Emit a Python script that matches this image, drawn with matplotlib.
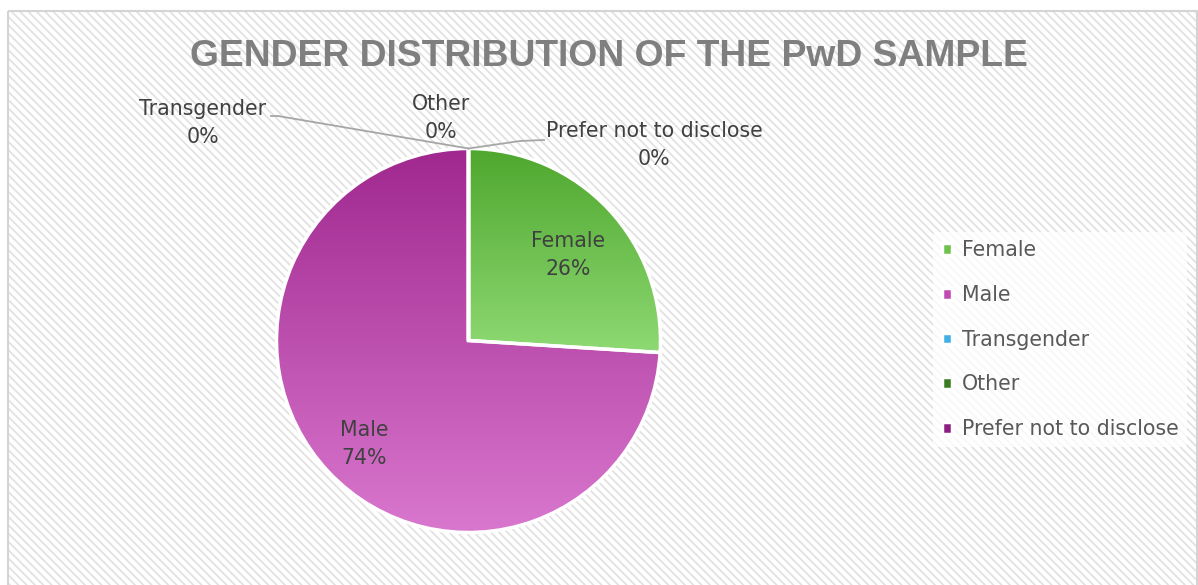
import numpy as np
import matplotlib
matplotlib.use('Agg')
import matplotlib.pyplot as plt
from matplotlib.patches import Rectangle
from matplotlib.colors import LinearSegmentedColormap

# gender split of the PwD sample (percent)
categories = ['Female', 'Male', 'Transgender', 'Other', 'Prefer not to disclose']
shares = [26, 74, 0, 0, 0]
colors = ['#6cc24a', '#c04cb3', '#41b0e4', '#3b7d23', '#8e1f82']
gradients = {
    'Female': ('#4ea72e', '#8ed973'),
    'Male': ('#a0288f', '#d977ce'),
}

W, H = 1198, 585
plt.rcParams['font.family'] = ['DejaVu Sans']
plt.rcParams['hatch.linewidth'] = 1.3

fig = plt.figure(figsize=(W / 100, H / 100), dpi=100)

# background panel in pixel coordinates (y grows downward)
bg = fig.add_axes([0, 0, 1, 1], zorder=0)
bg.set_xlim(0, W)
bg.set_ylim(H, 0)
bg.axis('off')
bg.add_patch(Rectangle((8, 11), W - 9, H, facecolor='white', edgecolor='#e2e2e2',
                       hatch='\\\\\\\\', linewidth=0, zorder=0))
bg.add_patch(Rectangle((8, 11), W - 9, H, fill=False, edgecolor='#d4d4d4',
                       linewidth=1.5, zorder=1))

# pie axes placed so the circle sits at (468, 340), radius 192 px
cx, cy, r = 468.5, 340.5, 192
ax = fig.add_axes([(cx - r) / W, (H - cy - r) / H, 2 * r / W, 2 * r / H], zorder=1)

wedges, _ = ax.pie(shares, colors=colors, startangle=90, counterclock=False, radius=1,
                   wedgeprops=dict(edgecolor='white', linewidth=2.5))
ax.set_aspect('equal')
ax.axis('off')

# vertical gradient fill clipped to each visible slice
for wedge, name in zip(wedges, categories):
    if name not in gradients:
        continue
    top, bottom = gradients[name]
    cmap = LinearSegmentedColormap.from_list(name, [bottom, top])
    ext = wedge.get_path().get_extents(wedge.get_transform() + ax.transData.inverted())
    grad = np.linspace(0, 1, 256).reshape(-1, 1)
    im = ax.imshow(grad, cmap=cmap, origin='lower', aspect='auto',
                   extent=[ext.x0, ext.x1, ext.y0, ext.y1], zorder=wedge.get_zorder() - 0.1)
    im.set_clip_path(wedge)
    wedge.set_facecolor('none')
ax.set_xlim(-1, 1)
ax.set_ylim(-1, 1)

# overlay for title, labels, leader lines and legend
ov = fig.add_axes([0, 0, 1, 1], zorder=2)
ov.set_xlim(0, W)
ov.set_ylim(H, 0)
ov.axis('off')
ov.patch.set_alpha(0)

ov.text(609, 57, 'GENDER DISTRIBUTION OF THE PwD SAMPLE', ha='center', va='center',
        fontsize=26.8, fontweight='bold', color='#7f7f7f', family='Liberation Sans')

label_color = '#404040'
fs = 14.8
ls = 1.5

def pct(v):
    return f'{v}%'

# labels inside the big slices
ov.text(568, 255, f'{categories[0]}\n{pct(shares[0])}', ha='center', va='center',
        fontsize=fs, color=label_color, linespacing=ls)
ov.text(364, 444, f'{categories[1]}\n{pct(shares[1])}', ha='center', va='center',
        fontsize=fs, color=label_color, linespacing=ls)

# zero slices all sit at the top of the pie
tip = ax.transData.transform((0, 1))
tip = ov.transData.inverted().transform(tip)

ov.text(203, 123, f'{categories[2]}\n{pct(shares[2])}', ha='center', va='center',
        fontsize=fs, color=label_color, linespacing=ls)
ov.text(441, 118, f'{categories[3]}\n{pct(shares[3])}', ha='center', va='center',
        fontsize=fs, color=label_color, linespacing=ls)
ov.text(654, 145, f'{categories[4]}\n{pct(shares[4])}', ha='center', va='center',
        fontsize=fs, color=label_color, linespacing=ls)

ov.plot([271, 278, tip[0]], [116, 116, tip[1]], color='#a6a6a6', lw=1.3)
ov.plot([tip[0], 520, 544], [tip[1], 141, 140], color='#a6a6a6', lw=1.3)

leg = ov.legend(wedges, categories, loc='upper left', bbox_to_anchor=(923 / W, 1 - 222 / H),
                bbox_transform=fig.transFigure, frameon=True, fontsize=fs,
                handlelength=0.5, handleheight=0.5, handletextpad=0.5,
                labelspacing=1.2, borderpad=0.4, labelcolor='#595959')
leg.get_frame().set_facecolor('white')
leg.get_frame().set_alpha(0.75)
leg.get_frame().set_linewidth(0)
for h, c in zip(leg.legend_handles, colors):
    h.set_facecolor(c)
    h.set_edgecolor('white')

fig.savefig('out.png', dpi=100)
